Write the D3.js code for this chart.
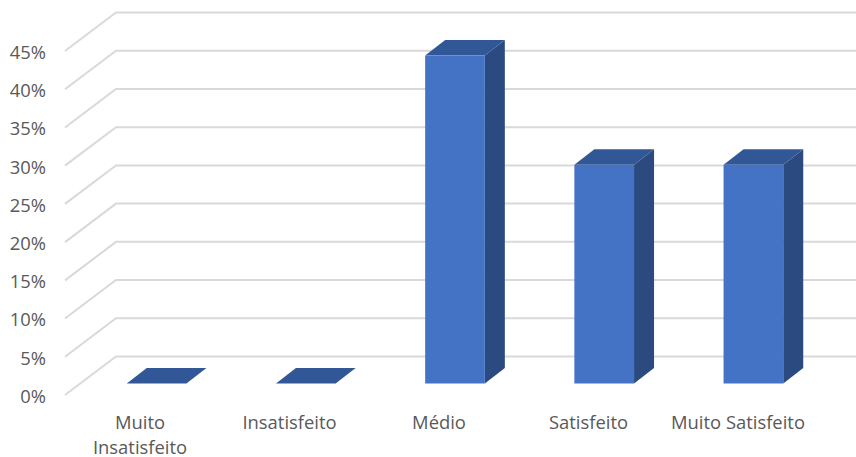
<!DOCTYPE html>
<html><head><meta charset="utf-8">
<script src="https://cdn.jsdelivr.net/npm/d3@7"></script>
<style>html,body{margin:0;padding:0;background:#fff}svg{display:block}text{font-family:"Open Sans",sans-serif;fill:#595959}</style>
</head><body><svg id="c" width="856" height="457"></svg>
<script>
const categories = [["Muito","Insatisfeito"],["Insatisfeito"],["Médio"],["Satisfeito"],["Muito Satisfeito"]];
const values = [0,0,42.9,28.6,28.6];
const ticks = [0,5,10,15,20,25,30,35,40,45];

const svg = d3.select("#c");
const y = d3.scaleLinear().domain([0,45]).range([395,51]);
const x = d3.scaleBand().domain(d3.range(5)).range([82,828]).paddingInner(0.6).paddingOuter(0.3);
const labelScale = d3.scalePoint().domain(d3.range(5)).range([140,738]);
const wallDx = 51, wallDy = -38.5, wallRight = 856, wallLeft = 65;
const barLift = 11.5, barDx = 20, barDy = -15.5;
const FS = 18.4;

svg.append("g").selectAll("polyline").data(ticks).join("polyline")
  .attr("points", d => [[wallLeft,y(d)],[wallLeft+wallDx,y(d)+wallDy],[wallRight,y(d)+wallDy]].join(" "))
  .attr("fill","none").attr("stroke","#d9d9d9").attr("stroke-width",2);

svg.append("g").selectAll("text").data(ticks).join("text")
  .attr("x",46).attr("y",d=>y(d)+1.5).attr("dy","0.35em").attr("text-anchor","end")
  .attr("font-size",FS).text(d=>d+"%");

const bars = svg.append("g").selectAll("g").data(values).join("g");
const bx = (d,i)=>x(i), bw = x.bandwidth();
const barTop = d => y(d)-barLift;
bars.append("path").attr("fill","#2a4a80").attr("d",(d,i)=>{
  const r=bx(d,i)+bw;
  return `M${r},${barTop(d)}L${r+barDx},${barTop(d)+barDy}L${r+barDx},${y(0)-barLift+barDy}L${r},${y(0)-barLift}Z`;
});
bars.append("path").attr("fill","#325796").attr("d",(d,i)=>{
  const l=bx(d,i), r=l+bw;
  return `M${l},${barTop(d)}L${l+barDx},${barTop(d)+barDy}L${r+barDx},${barTop(d)+barDy}L${r},${barTop(d)}Z`;
});
bars.append("rect").attr("fill","#4472c4").attr("x",bx).attr("width",bw)
  .attr("y",barTop).attr("height",d=>y(0)-barLift-barTop(d));

svg.append("g").selectAll("text").data(categories).join("text")
  .attr("text-anchor","middle").attr("font-size",FS)
  .attr("transform",(d,i)=>`translate(${labelScale(i)},429)`)
  .selectAll("tspan").data(d=>d).join("tspan")
  .attr("x",0).attr("dy",(d,i)=>i?24.5:0)
  .text(d=>d);
</script></body></html>
